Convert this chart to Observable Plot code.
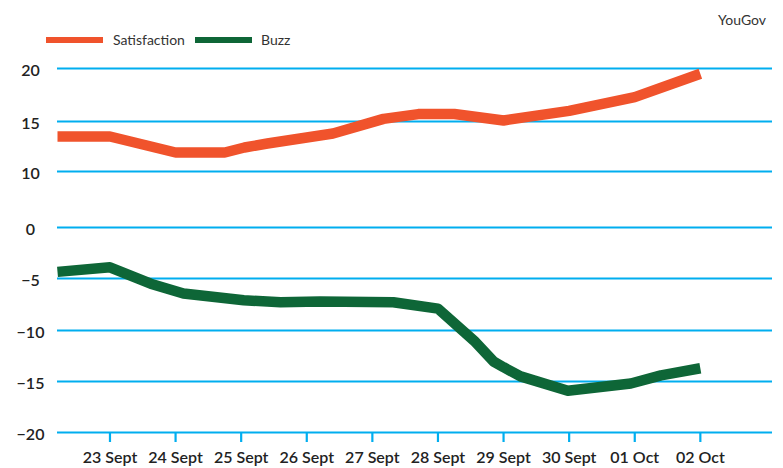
<!DOCTYPE html>
<html>
<head>
<meta charset="utf-8">
<script src="https://cdn.jsdelivr.net/npm/d3@7"></script>
<script src="https://cdn.jsdelivr.net/npm/@observablehq/plot@0.6"></script>
<style>
  html, body { margin: 0; padding: 0; background: #fff; }
  #wrap { width: 783px; height: 468px; position: relative; font-family: Lato, "Open Sans", sans-serif; color: #333; }
  #hdr { position: relative; height: 50px; }
  .sw { position: absolute; top: 37px; width: 57px; height: 6px; }
  .lab { position: absolute; top: 31px; font-size: 14px; line-height: 18px; color: #333; }
  #src { position: absolute; top: 11px; right: 17px; font-size: 14px; color: #333; }
  svg { display: block; }
</style>
</head>
<body>
<div id="wrap">
  <div id="hdr"></div>
  <div id="chart"></div>
</div>
<script>
// X tick labels (day index 0 = 23 Sept)
const dayLabels = ["23 Sept", "24 Sept", "25 Sept", "26 Sept", "27 Sept", "28 Sept", "29 Sept", "30 Sept", "01 Oct", "02 Oct"];
// Y tick labels as shown (note: the chart skips 5)
const yTicks = [20, 15, 10, 0, -5, -10, -15, -20];

// Series names and colours
const seriesNames = ["Satisfaction", "Buzz"];
const seriesColors = ["#f0532c", "#0e6637"];

// Satisfaction: day position and value
const satDay =   [-0.8, 0, 1, 1.75, 2.05, 2.4, 3.4, 4.17, 4.7, 5.25, 6, 7, 8, 9];
const satValue = [13.5, 13.5, 11.9, 11.9, 12.4, 12.8, 13.8, 15.25, 15.7, 15.7, 15.1, 16.0, 17.3, 19.5];

// Buzz: day position and value
const buzzDay =   [-0.8, 0, 0.62, 1.12, 2.04, 2.6, 3.2, 4.32, 5.0, 5.55, 5.85, 6.0, 6.26, 6.98, 7.94, 8.4, 9];
const buzzValue = [-4.35, -3.9, -5.5, -6.45, -7.1, -7.28, -7.2, -7.28, -7.9, -11.0, -13.05, -13.6, -14.5, -15.9, -15.2, -14.4, -13.7];

const satData = satDay.map((d, i) => ({day: d, value: satValue[i], series: seriesNames[0]}));
const buzzData = buzzDay.map((d, i) => ({day: d, value: buzzValue[i], series: seriesNames[1]}));

// Legend
const hdr = document.getElementById("hdr");
const legendPos = [[46, 113], [195, 261]];
seriesNames.forEach((name, i) => {
  const sw = document.createElement("span");
  sw.className = "sw";
  sw.style.left = legendPos[i][0] + "px";
  sw.style.background = seriesColors[i];
  hdr.appendChild(sw);
  const lb = document.createElement("span");
  lb.className = "lab";
  lb.style.left = legendPos[i][1] + "px";
  lb.textContent = name;
  hdr.appendChild(lb);
});
const src = document.createElement("span");
src.id = "src";
src.textContent = "YouGov";
hdr.appendChild(src);

const grid = "#00aeef";

const chart = Plot.plot({
  width: 783,
  height: 418,
  marginLeft: 57,
  marginRight: 11,
  marginTop: 18,
  marginBottom: 36,
  style: {fontFamily: "Lato, 'Open Sans', sans-serif", background: "#fff", color: "#222", overflow: "visible"},
  x: {type: "linear", domain: [-0.8, 10.1]},
  y: {type: "linear", domain: [-20, -15, -10, -5, 0, 10, 15, 20], range: [382, 331, 280, 228, 177, 121, 71, 18]},
  marks: [
    Plot.ruleY(yTicks, {stroke: grid, strokeWidth: 2.2}),
    Plot.axisY({ticks: yTicks, tickSize: 0, tickPadding: 27, textAnchor: "middle", dy: 2, fontSize: 16, fontWeight: 600, fill: "#222", label: null}),
    Plot.axisX({ticks: d3.range(dayLabels.length), tickFormat: i => dayLabels[i], tickSize: 10, tickPadding: 9, stroke: grid, strokeWidth: 2.2, strokeOpacity: 1, fontSize: 16, fontWeight: 600, fill: "#222", label: null}),
    Plot.line(satData, {x: "day", y: "value", stroke: seriesColors[0], strokeWidth: 10.5, strokeLinecap: "butt", strokeLinejoin: "round"}),
    Plot.line(buzzData, {x: "day", y: "value", stroke: seriesColors[1], strokeWidth: 10.5, strokeLinecap: "butt", strokeLinejoin: "round"})
  ]
});
document.getElementById("chart").appendChild(chart);
</script>
</body>
</html>
